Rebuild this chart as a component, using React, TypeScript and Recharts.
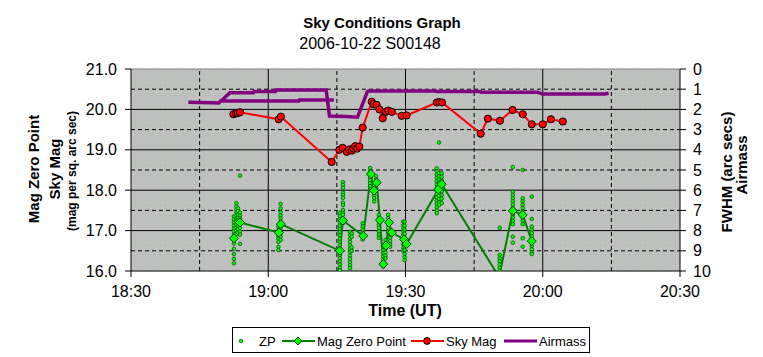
import React from 'react';
import { ComposedChart, XAxis, YAxis, Line, Scatter, CartesianGrid, ReferenceLine } from 'recharts';

const FONT = '"Liberation Sans", Arial, sans-serif';

// axis ticks (time in decimal hours UT)
const timeTicks = [18.5, 19, 19.5, 20, 20.5];
const timeMinor = [18.75, 19.25, 19.75, 20.25];
const magTicks = [16, 17, 18, 19, 20, 21];
const magMinor = [16.5, 17.5, 18.5, 19.5, 20.5];
const fwhmTicks = [0, 1, 2, 3, 4, 5, 6, 7, 8, 9, 10];

// individual ZP measurements, grouped by exposure time
const zpTimes = [18.875, 18.884, 18.89, 18.897, 19.037, 19.045, 19.261, 19.272, 19.298, 19.304, 19.344, 19.371, 19.386, 19.393, 19.403, 19.419, 19.427, 19.437, 19.444, 19.492, 19.497, 19.614, 19.622, 19.632, 19.843, 19.891, 19.927, 19.96];
const zpMags = [
  [17.35, 17.27, 17.2, 17.12, 17.05, 16.98, 16.9, 16.82, 16.75, 16.68, 16.55, 16.42, 16.3, 16.19],
  [17.68, 17.6, 17.52, 17.45, 17.38, 17.3, 17.22, 17.15, 17.07, 17.0, 16.92],
  [17.55, 17.48, 17.4, 17.32, 17.25, 17.18, 17.1, 17.03, 16.95],
  [18.36, 17.45, 17.37, 17.3, 17.22, 17.15, 17.07, 16.98, 16.9, 16.67],
  [17.1, 17.02, 16.95, 16.87, 16.8, 16.72, 16.6, 16.52],
  [17.66, 17.55, 17.45, 17.37, 17.3, 17.22, 17.15, 17.07, 17.0, 16.92, 16.85, 16.77],
  [17.44, 17.36, 17.28, 17.2, 17.12, 17.04, 16.96, 16.88, 16.8, 16.72, 16.64, 16.56, 16.48, 16.4, 16.32, 16.24, 16.16, 16.08, 16.02],
  [18.2, 18.13, 18.06, 17.94, 17.88, 17.81, 17.69, 17.63, 17.51, 17.44, 17.39, 17.3, 17.25, 17.18],
  [16.97, 16.89, 16.8, 16.72, 16.64, 16.55, 16.47, 16.38, 16.3, 16.22, 16.14, 16.07],
  [16.93, 16.85, 16.58, 16.5],
  [17.18, 17.1, 17.02, 16.94, 16.86, 16.78],
  [18.55, 18.47, 18.4, 18.32, 18.25, 18.17, 18.1],
  [18.17, 18.1, 18.02, 17.95, 17.87, 17.8, 17.72],
  [18.35, 18.27, 18.2],
  [17.39, 17.31, 17.23, 17.15, 17.07, 16.98, 16.9, 16.82],
  [16.6, 16.52, 16.44, 16.36, 16.28, 16.2, 16.11],
  [16.77, 16.69, 16.61, 16.54, 16.46, 16.38, 16.31],
  [17.39, 17.31, 17.22, 17.14, 17.06, 16.97],
  [16.9, 16.82, 16.74, 16.66, 16.6],
  [17.22, 17.14, 17.06, 16.98, 16.9, 16.82, 16.74, 16.66, 16.58, 16.5],
  [17.22, 17.12, 17.02, 16.92, 16.82, 16.72, 16.62, 16.52, 16.42, 16.34, 16.27],
  [18.54, 18.46, 18.38, 18.3, 18.22, 18.14, 18.06, 17.98, 17.9, 17.82, 17.74, 17.66, 17.58, 17.5, 17.43],
  [19.18, 18.42, 18.34, 18.26, 18.18, 18.1, 18.02, 17.94, 17.86, 17.78, 17.7, 17.63],
  [18.42, 18.33, 18.24, 18.15, 18.06, 17.97, 17.88, 17.79, 17.68],
  [17.07, 16.4, 16.32, 16.24, 16.16, 16.08, 16.0],
  [18.57, 17.96, 17.88, 17.8, 17.72, 17.64, 17.56, 17.48, 17.4, 17.32, 17.24, 17.16, 16.85, 16.7],
  [18.5, 17.8, 17.72, 17.64, 17.56, 17.48, 17.4, 17.32, 17.24, 17.16, 16.81, 16.6],
  [17.84, 17.29, 17.1, 17.02, 16.94, 16.86, 16.78, 16.7, 16.62, 16.54, 16.46, 16.42],
];

// Mag Zero Point (averages)
const mzpTimes = [18.875, 18.897, 19.039, 19.046, 19.261, 19.272, 19.346, 19.374, 19.385, 19.395, 19.407, 19.419, 19.429, 19.44, 19.45, 19.495, 19.504, 19.62, 19.632, 19.841, 19.891, 19.927, 19.96];
const mzpMags = [16.81, 17.2, 16.95, 17.16, 16.5, 17.25, 16.87, 18.4, 17.99, 18.19, 17.26, 16.17, 16.63, 17.2, 16.95, 16.78, 16.67, 18.02, 18.15, 15.85, 17.49, 17.39, 16.74];

// Sky Mag
const skyTimes = [18.873, 18.883, 18.889, 18.897, 19.038, 19.046, 19.231, 19.259, 19.271, 19.286, 19.295, 19.305, 19.31, 19.317, 19.324, 19.332, 19.344, 19.377, 19.383, 19.395, 19.405, 19.417, 19.428, 19.437, 19.45, 19.486, 19.504, 19.614, 19.623, 19.633, 19.774, 19.8, 19.844, 19.89, 19.927, 19.96, 20.0, 20.03, 20.073];
const skyMags = [19.88, 19.9, 19.91, 19.93, 19.755, 19.82, 18.7, 19.0, 19.05, 18.95, 19.01, 18.98, 19.04, 19.09, 19.03, 19.08, 19.55, 20.19, 20.13, 20.11, 20.0, 19.78, 19.94, 19.97, 19.94, 19.84, 19.85, 20.17, 20.18, 20.17, 19.4, 19.77, 19.72, 19.985, 19.88, 19.63, 19.63, 19.755, 19.7];

// Airmass (null = break in the line)
const airTimes = [18.709, 18.79, 18.82, 18.826, 19.111, 19.113, 19.239, 19.239, 18.826, 18.86, 18.946, 18.948, 19.026, 19.028, 19.211, 19.223, 19.285, 19.325, 19.361, 19.365, 19.609, 19.616, 19.772, 19.776, 19.981, 20.0, 20.225, 20.24];
const airValues = [1.65, 1.67, 1.68, 1.58, 1.58, 1.53, 1.53, null, 1.62, 1.17, 1.17, 1.12, 1.12, 1.04, 1.04, 2.33, 2.35, 2.39, 1.12, 1.09, 1.09, 1.12, 1.12, 1.15, 1.15, 1.24, 1.24, 1.2];

const zpData = zpTimes.flatMap((t, i) => zpMags[i].map((v) => ({ t, v })));
const mzpData = mzpTimes.map((t, i) => ({ t, v: mzpMags[i] }));
const skyData = skyTimes.map((t, i) => ({ t, v: skyMags[i] }));
const airData = airTimes.map((t, i) => ({ t, a: airValues[i] }));

const fmtTime = (h: number) => {
  const hh = Math.floor(h + 1e-6);
  const mm = Math.round((h - hh) * 60);
  return `${hh}:${String(mm).padStart(2, '0')}`;
};

const tickStyle = { fontSize: 16, fill: '#000', fontFamily: FONT };

const ZpDot = (p: any) => <circle cx={p.cx} cy={p.cy} r={1.8} fill="#00ff00" stroke="#005a00" strokeWidth={0.8} />;

const diamond = (p: any) => {
  if (p.cx == null || p.cy == null) return <g key={`dm${p.index}`} />;
  const s = 4.5;
  return (
    <path key={`dm${p.index}`} d={`M${p.cx},${p.cy - s}L${p.cx + s},${p.cy}L${p.cx},${p.cy + s}L${p.cx - s},${p.cy}Z`}
      fill="#00ff00" stroke="#004800" strokeWidth={1} />
  );
};

const redDot = (p: any) => {
  if (p.cx == null || p.cy == null) return <g key={`rd${p.index}`} />;
  return <circle key={`rd${p.index}`} cx={p.cx} cy={p.cy} r={3.6} fill="#ff0000" stroke="#000" strokeWidth={1} />;
};

const abs = (x: number, y: number, extra: React.CSSProperties = {}): React.CSSProperties => ({
  position: 'absolute', left: x, top: y, transform: 'translate(-50%,-50%)', whiteSpace: 'nowrap',
  fontFamily: FONT, color: '#000', lineHeight: 1, ...extra,
});
const rot = (x: number, y: number, extra: React.CSSProperties = {}): React.CSSProperties =>
  abs(x, y, { transform: 'translate(-50%,-50%) rotate(-90deg)', ...extra });

function LegendBox() {
  const txt = { fontSize: 13, fontFamily: FONT, position: 'absolute' as const, top: 6 };
  return (
    <div style={{ position: 'absolute', left: 232, top: 327, width: 356, height: 24, border: '1px solid #000', background: '#fff' }}>
      <svg width={356} height={24} style={{ position: 'absolute', left: 0, top: 0 }}>
        <circle cx={8} cy={13} r={1.8} fill="#00ff00" stroke="#005a00" strokeWidth={0.8} />
        <line x1={49} x2={82} y1={13} y2={13} stroke="#008000" strokeWidth={2} />
        <path d="M65,9L69,13L65,17L61,13Z" fill="#00ff00" stroke="#004800" />
        <line x1={178} x2={211} y1={13} y2={13} stroke="#ff0000" strokeWidth={2} />
        <circle cx={194} cy={13} r={3.4} fill="#ff0000" stroke="#000" />
        <line x1={271} x2={304} y1={13} y2={13} stroke="#800080" strokeWidth={3} />
      </svg>
      <span style={{ ...txt, left: 26 }}>ZP</span>
      <span style={{ ...txt, left: 84 }}>Mag Zero Point</span>
      <span style={{ ...txt, left: 213 }}>Sky Mag</span>
      <span style={{ ...txt, left: 306 }}>Airmass</span>
    </div>
  );
}

export default function App() {
  return (
    <div style={{ position: 'absolute', left: 0, top: 0, width: 763, height: 357, background: '#fff', fontFamily: FONT }}>
      <ComposedChart width={763} height={357} margin={{ top: 69, left: 71, right: 43, bottom: 56 }}>
        <defs>
          <pattern id="bgDots" width={5} height={5} patternUnits="userSpaceOnUse">
            <rect width={5} height={5} fill="#c0c0c0" />
            <rect x={0} y={0} width={1} height={1} fill="#9ec79e" />
            <rect x={3} y={2} width={1} height={1} fill="#b0c8b0" />
          </pattern>
        </defs>
        <CartesianGrid fill="url(#bgDots)" horizontal={false} vertical={false} />
        <XAxis type="number" dataKey="t" domain={[18.5, 20.5]} ticks={timeTicks} tickFormatter={fmtTime}
          allowDataOverflow height={30} tick={tickStyle} tickSize={6} tickMargin={9} interval={0}
          axisLine={{ stroke: '#000' }} tickLine={{ stroke: '#000' }} />
        <YAxis yAxisId="left" dataKey="v" type="number" domain={[16, 21]} ticks={magTicks} allowDataOverflow
          tickFormatter={(v: number) => v.toFixed(1)} width={60} tick={tickStyle} tickSize={6} tickMargin={8}
          interval={0} axisLine={{ stroke: '#000' }} tickLine={{ stroke: '#000' }} />
        <YAxis yAxisId="right" orientation="right" dataKey="a" type="number" domain={[0, 10]} ticks={fwhmTicks}
          reversed allowDataOverflow width={40} tick={tickStyle} tickSize={6} tickMargin={7} interval={0}
          axisLine={{ stroke: '#000' }} tickLine={{ stroke: '#000' }} />
        {magMinor.map((m) => (
          <ReferenceLine key={`hm${m}`} yAxisId="left" y={m} stroke="#000" strokeDasharray="4 3" />
        ))}
        {magTicks.slice(1, 5).map((m) => (
          <ReferenceLine key={`hM${m}`} yAxisId="left" y={m} stroke="#000" />
        ))}
        <ReferenceLine yAxisId="left" y={21} stroke="#808080" />
        {timeMinor.map((t) => (
          <ReferenceLine key={`vm${t}`} yAxisId="left" x={t} stroke="#000" strokeDasharray="4 3" />
        ))}
        {timeTicks.slice(1, 4).map((t) => (
          <ReferenceLine key={`vM${t}`} yAxisId="left" x={t} stroke="#000" />
        ))}
        <Scatter yAxisId="left" name="ZP" data={zpData} dataKey="v" shape={ZpDot} isAnimationActive={false} />
        <Line yAxisId="left" name="Mag Zero Point" data={mzpData} dataKey="v" stroke="#008000" strokeWidth={2}
          dot={diamond} activeDot={false} isAnimationActive={false} />
        <Line yAxisId="left" name="Sky Mag" data={skyData} dataKey="v" stroke="#ff0000" strokeWidth={2}
          dot={redDot} activeDot={false} isAnimationActive={false} />
        <Line yAxisId="right" name="Airmass" data={airData} dataKey="a" stroke="#800080" strokeWidth={3.5}
          dot={false} activeDot={false} connectNulls={false} isAnimationActive={false} />
      </ComposedChart>

      <div style={abs(382, 22, { fontSize: 15, fontWeight: 'bold' })}>Sky Conditions Graph</div>
      <div style={abs(370, 44, { fontSize: 16 })}>2006-10-22 S00148</div>
      <div style={abs(405, 311, { fontSize: 16, fontWeight: 'bold' })}>Time (UT)</div>
      <div style={rot(33, 169, { fontSize: 15, fontWeight: 'bold' })}>Mag Zero Point</div>
      <div style={rot(54, 169, { fontSize: 15, fontWeight: 'bold' })}>Sky Mag</div>
      <div style={rot(72, 171, { fontSize: 12, fontWeight: 'bold' })}>(mag per sq. arc sec)</div>
      <div style={rot(726, 172, { fontSize: 15, fontWeight: 'bold' })}>FWHM (arc secs)</div>
      <div style={rot(741, 165, { fontSize: 15, fontWeight: 'bold' })}>Airmass</div>
      <LegendBox />
    </div>
  );
}
